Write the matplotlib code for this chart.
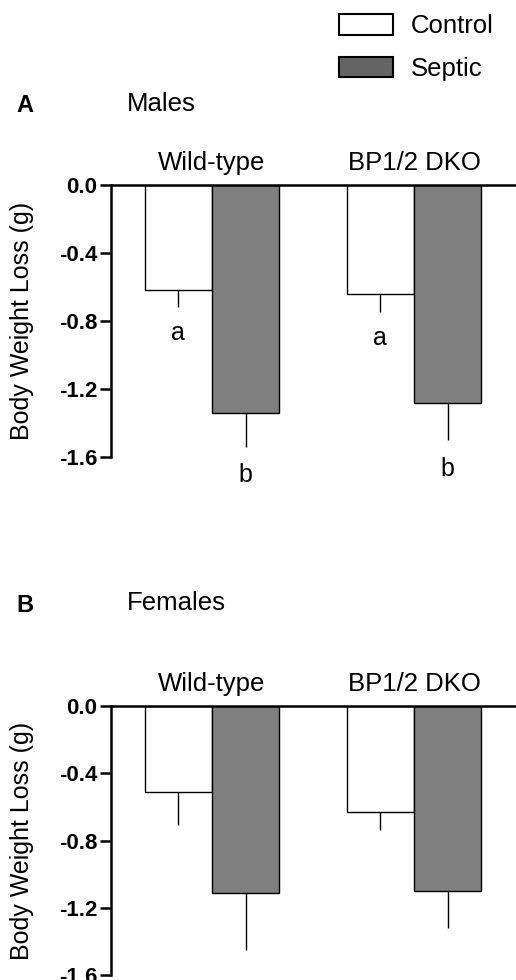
import matplotlib
matplotlib.use("Agg")
import matplotlib.pyplot as plt
from matplotlib.patches import Patch
import numpy as np

plt.rcParams['font.family'] = ['Liberation Sans', 'DejaVu Sans']

categories = ["Wild-type", "BP1/2 DKO"]
series = ["Control", "Septic"]
yticks = [0.0, -0.4, -0.8, -1.2, -1.6]
ytick_labels = ["0.0", "-0.4", "-0.8", "-1.2", "-1.6"]

males_control = [-0.62, -0.64]
males_control_err = [0.10, 0.11]
males_septic = [-1.34, -1.28]
males_septic_err = [0.20, 0.22]
males_letters_control = ["a", "a"]
males_letters_septic = ["b", "b"]

females_control = [-0.51, -0.63]
females_control_err = [0.20, 0.11]
females_septic = [-1.11, -1.10]
females_septic_err = [0.34, 0.22]

W, H = 516, 980
fig = plt.figure(figsize=(W/100, H/100), dpi=100)

def px(x0, y0, x1, y1):
    return [x0/W, 1 - y1/H, (x1-x0)/W, (y1-y0)/H]

ctrl_color = "white"
sept_color = "#808080"
group_x = np.array([1.5, 4.5])
bw = 1.0

def draw_panel(rect, ctrl, ctrl_err, sept, sept_err, letters_c=None, letters_s=None):
    ax = fig.add_axes(rect)
    xc = group_x - bw/2
    xs = group_x + bw/2
    ax.bar(xc, ctrl, width=bw, color=ctrl_color, edgecolor="black", linewidth=1.0, zorder=2)
    ax.bar(xs, sept, width=bw, color=sept_color, edgecolor="black", linewidth=1.0, zorder=2)
    ax.errorbar(xc, ctrl, yerr=[ctrl_err, [0]*len(ctrl)], fmt="none", ecolor="black",
                elinewidth=1.0, capsize=0, zorder=1)
    ax.errorbar(xs, sept, yerr=[sept_err, [0]*len(sept)], fmt="none", ecolor="black",
                elinewidth=1.0, capsize=0, zorder=1)
    if letters_c:
        for x, v, e, t in zip(xc, ctrl, ctrl_err, letters_c):
            ax.annotate(t, (x, v - e), xytext=(0, -10), textcoords="offset points",
                        ha="center", va="top", fontsize=18)
    if letters_s:
        for x, v, e, t in zip(xs, sept, sept_err, letters_s):
            ax.annotate(t, (x, v - e), xytext=(0, -12), textcoords="offset points",
                        ha="center", va="top", fontsize=18)
    ax.set_xlim(0, 6.0)
    ax.set_ylim(-1.6, 0)
    ax.set_yticks(yticks)
    ax.set_yticklabels(ytick_labels, fontsize=16, fontweight="bold")
    ax.tick_params(axis="y", length=8, width=1.8, direction="out", pad=2)
    ax.set_xticks(group_x)
    ax.set_xticklabels(categories, fontsize=18.5)
    ax.xaxis.set_ticks_position("top")
    ax.tick_params(axis="x", length=0, pad=7)
    for s in ["right", "bottom"]:
        ax.spines[s].set_visible(False)
    ax.spines["left"].set_linewidth(1.8)
    ax.spines["top"].set_linewidth(1.8)
    ax.spines["top"].set_zorder(3)
    ax.set_ylabel("Body Weight Loss (g)", fontsize=18)
    ax.yaxis.set_label_coords(-0.19, 0.5)
    ax.patch.set_alpha(0)
    return ax

axA = draw_panel(px(111, 185, 515, 457), males_control, males_control_err,
                 males_septic, males_septic_err, males_letters_control, males_letters_septic)
axB = draw_panel(px(111, 706, 515, 975), females_control, females_control_err,
                 females_septic, females_septic_err)

fig.text(16/W, 1 - 106/H, "A", fontsize=17, fontweight="bold", va="center", ha="left")
fig.text(127/W, 1 - 104/H, "Males", fontsize=18.5, va="center", ha="left")
fig.text(16/W, 1 - 606/H, "B", fontsize=17, fontweight="bold", va="center", ha="left")
fig.text(127/W, 1 - 603/H, "Females", fontsize=18.5, va="center", ha="left")

handles = [Patch(facecolor="white", edgecolor="black", linewidth=1.5, label=series[0]),
           Patch(facecolor="#646464", edgecolor="black", linewidth=1.5, label=series[1])]
fig.legend(handles=handles, loc="upper left", bbox_to_anchor=(334/W, 1 - 9/H),
           frameon=False, fontsize=18.5, handlelength=2.1, handleheight=0.85,
           handletextpad=0.7, labelspacing=0.72, borderpad=0.2, borderaxespad=0)

fig.savefig("out.png", dpi=100)
